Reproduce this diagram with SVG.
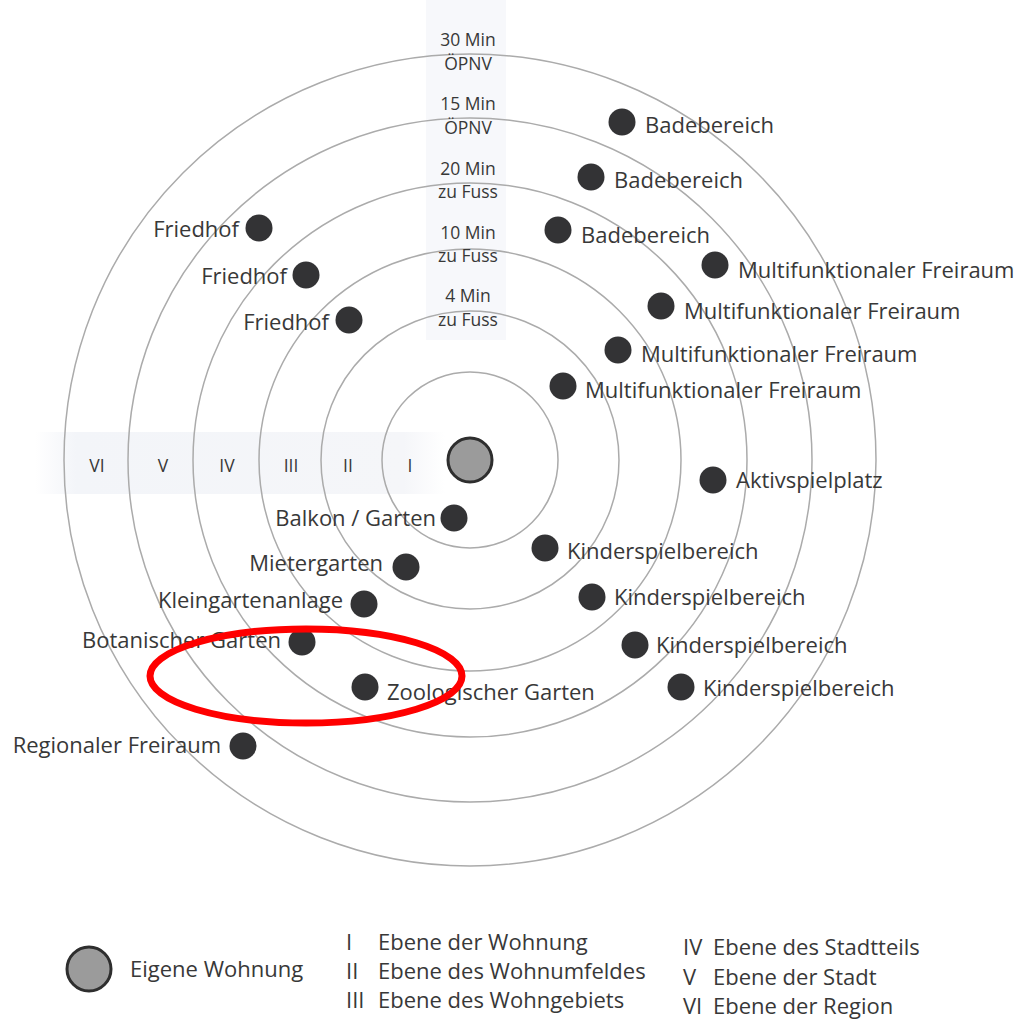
<svg xmlns="http://www.w3.org/2000/svg" width="1016" height="1019" viewBox="0 0 1016 1019">
<defs>
<style>
.ring{fill:none;stroke:#ababab;stroke-width:1.5}
.dot{fill:#333335}
.lbl{font-family:"Open Sans","Liberation Sans",sans-serif;font-size:22px;fill:#383838}
.end{text-anchor:end}
.tm{font-family:"Open Sans","Liberation Sans",sans-serif;font-size:17.5px;fill:#383838;text-anchor:middle}
.rn{font-family:"Open Sans","Liberation Sans",sans-serif;font-size:17.5px;fill:#383838;text-anchor:middle}
.lg{font-family:"Open Sans","Liberation Sans",sans-serif;font-size:22px;fill:#383838}
.home{fill:#9b9b9b;stroke:#2e2e2e;stroke-width:3}
</style>
<linearGradient id="hband" x1="0" y1="0" x2="1" y2="0">
<stop offset="0" stop-color="#f3f5f9" stop-opacity="0"/>
<stop offset="0.1" stop-color="#f3f5f9"/>
<stop offset="0.9" stop-color="#f5f6f9"/>
<stop offset="1" stop-color="#f5f6f9" stop-opacity="0"/>
</linearGradient>
</defs>
<rect width="1016" height="1019" fill="#ffffff"/>
<rect x="426" y="0" width="80" height="340" fill="#f7f8fb"/>
<rect x="35" y="432" width="410" height="62" fill="url(#hband)"/>
<g id="rings">
<circle class="ring" cx="470" cy="460" r="88"/>
<circle class="ring" cx="470" cy="460" r="149"/>
<circle class="ring" cx="470" cy="460" r="211"/>
<circle class="ring" cx="470" cy="460" r="277"/>
<circle class="ring" cx="470" cy="460" r="342"/>
<circle class="ring" cx="470" cy="460" r="406"/>
</g>
<g id="time-labels">
<text class="tm" x="468" y="46">30 Min</text><text class="tm" x="468" y="70">ÖPNV</text>
<text class="tm" x="468" y="110">15 Min</text><text class="tm" x="468" y="134">ÖPNV</text>
<text class="tm" x="468" y="175">20 Min</text><text class="tm" x="468" y="198">zu Fuss</text>
<text class="tm" x="468" y="239">10 Min</text><text class="tm" x="468" y="262">zu Fuss</text>
<text class="tm" x="468" y="302">4 Min</text><text class="tm" x="468" y="326">zu Fuss</text>
</g>
<g id="level-labels">
<text class="rn" x="97" y="472">VI</text>
<text class="rn" x="163" y="472">V</text>
<text class="rn" x="227" y="472">IV</text>
<text class="rn" x="291" y="472">III</text>
<text class="rn" x="348" y="472">II</text>
<text class="rn" x="410" y="472">I</text>
</g>
<g id="home"><circle class="home" cx="470" cy="460" r="22"/></g>
<g id="n-bade1"><circle class="dot" cx="622" cy="122" r="13.5"/><text class="lbl" x="645" y="133">Badebereich</text></g>
<g id="n-bade2"><circle class="dot" cx="591" cy="177" r="13.5"/><text class="lbl" x="614" y="188">Badebereich</text></g>
<g id="n-bade3"><circle class="dot" cx="558" cy="230" r="13.5"/><text class="lbl" x="581" y="243">Badebereich</text></g>
<g id="n-mf1"><circle class="dot" cx="715" cy="265" r="13.5"/><text class="lbl" x="738" y="278">Multifunktionaler Freiraum</text></g>
<g id="n-mf2"><circle class="dot" cx="661" cy="306" r="13.5"/><text class="lbl" x="684" y="319">Multifunktionaler Freiraum</text></g>
<g id="n-mf3"><circle class="dot" cx="618" cy="350" r="13.5"/><text class="lbl" x="641" y="362">Multifunktionaler Freiraum</text></g>
<g id="n-mf4"><circle class="dot" cx="563" cy="386" r="13.5"/><text class="lbl" x="585" y="398">Multifunktionaler Freiraum</text></g>
<g id="n-aktiv"><circle class="dot" cx="713" cy="480" r="13.5"/><text class="lbl" x="736" y="488">Aktivspielplatz</text></g>
<g id="n-kind1"><circle class="dot" cx="545" cy="548" r="13.5"/><text class="lbl" x="567" y="559">Kinderspielbereich</text></g>
<g id="n-kind2"><circle class="dot" cx="592" cy="597" r="13.5"/><text class="lbl" x="614" y="605">Kinderspielbereich</text></g>
<g id="n-kind3"><circle class="dot" cx="635" cy="645" r="13.5"/><text class="lbl" x="656" y="653">Kinderspielbereich</text></g>
<g id="n-kind4"><circle class="dot" cx="681" cy="687" r="13.5"/><text class="lbl" x="703" y="696">Kinderspielbereich</text></g>
<g id="n-fried1"><circle class="dot" cx="259" cy="228" r="13.5"/><text class="lbl end" x="239" y="237">Friedhof</text></g>
<g id="n-fried2"><circle class="dot" cx="306" cy="275" r="13.5"/><text class="lbl end" x="287" y="284">Friedhof</text></g>
<g id="n-fried3"><circle class="dot" cx="349" cy="320" r="13.5"/><text class="lbl end" x="329" y="330">Friedhof</text></g>
<g id="n-balkon"><circle class="dot" cx="454" cy="518" r="13.5"/><text class="lbl end" x="436" y="526">Balkon / Garten</text></g>
<g id="n-mieter"><circle class="dot" cx="406" cy="567" r="13.5"/><text class="lbl end" x="383" y="571">Mietergarten</text></g>
<g id="n-klein"><circle class="dot" cx="364" cy="604" r="13.5"/><text class="lbl end" x="343" y="608">Kleingartenanlage</text></g>
<g id="n-bot"><circle class="dot" cx="302" cy="642" r="13.5"/><text class="lbl end" x="281" y="648">Botanischer Garten</text></g>
<g id="n-zoo"><circle class="dot" cx="365" cy="687" r="13.5"/><text class="lbl" x="387" y="700">Zoologischer Garten</text></g>
<g id="n-region"><circle class="dot" cx="243" cy="746" r="13.5"/><text class="lbl end" x="221" y="753">Regionaler Freiraum</text></g>
<g id="highlight"><ellipse cx="306" cy="676" rx="156" ry="47" fill="none" stroke="#ff0000" stroke-width="7"/></g>
<g id="legend">
<circle class="home" cx="89" cy="969" r="22"/>
<text class="lg" x="130" y="977">Eigene Wohnung</text>
<text class="lg" x="346" y="950">I</text><text class="lg" x="378" y="950">Ebene der Wohnung</text>
<text class="lg" x="346" y="979">II</text><text class="lg" x="378" y="979">Ebene des Wohnumfeldes</text>
<text class="lg" x="346" y="1008">III</text><text class="lg" x="378" y="1008">Ebene des Wohngebiets</text>
<text class="lg" x="683" y="955">IV</text><text class="lg" x="713" y="955">Ebene des Stadtteils</text>
<text class="lg" x="683" y="985">V</text><text class="lg" x="713" y="985">Ebene der Stadt</text>
<text class="lg" x="683" y="1014">VI</text><text class="lg" x="713" y="1014">Ebene der Region</text>
</g>
</svg>
